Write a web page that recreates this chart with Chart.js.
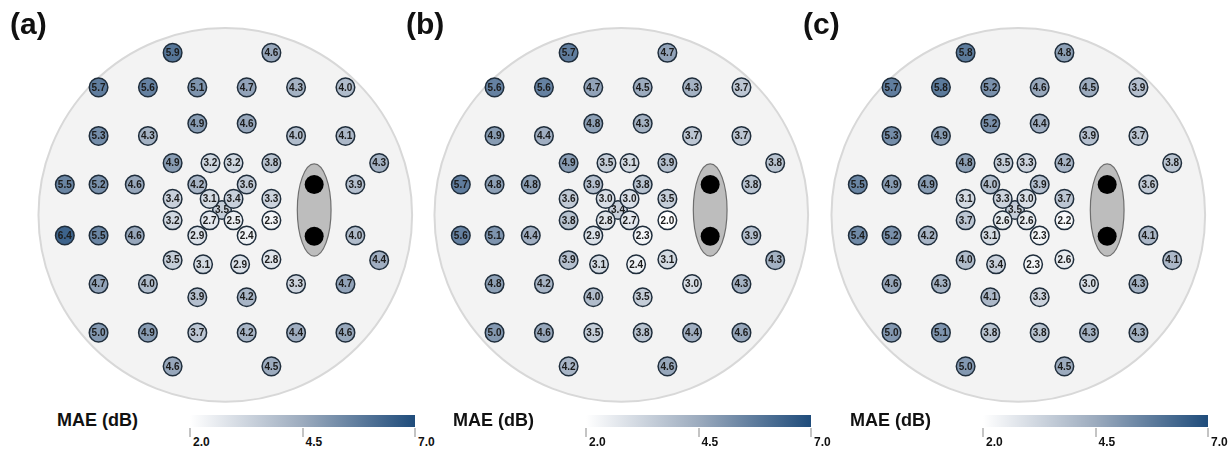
<!DOCTYPE html>
<html>
<head>
<meta charset="utf-8">
<script src="https://cdn.jsdelivr.net/npm/chart.js@4.4.1/dist/chart.umd.min.js"></script>
<style>
  body { margin: 0; width: 1231px; height: 449px; background: #fff; position: relative; overflow: hidden;
         font-family: "Liberation Sans", Arial, sans-serif; color: #111; }
  canvas.panel { position: absolute; top: 0; }
  .tag { position: absolute; top: 9px; font-size: 30px; font-weight: bold; line-height: 1; }
  .cbtitle { position: absolute; top: 411px; font-size: 18px; font-weight: bold; line-height: 1; }
  .cbar { position: absolute; top: 415px; height: 12px; }
  .tick { position: absolute; top: 428px; width: 2px; height: 9px; background: #c4c4c4; }
  .ticklabel { position: absolute; top: 436px; font-size: 12px; font-weight: bold; line-height: 1; }
</style>
</head>
<body>
<script>
// test locations in degrees (first one is fixation)
const locX = [0,
  -6, 6,
  -15, -9, -3, 3, 9, 15,
  -3, 3,
  -15, -9, 9, 15,
  -6, -1.4, 1.4, 6, 19.1,
  -19.1, -15, -10.6, -3, 3, 16.2,
  -6, -1.5, 1.4, 6,
  -6, -1.5, 1.4, 6,
  -19.1, -15, -10.6, -3, 3, 16.2,
  -6, -2.3, 2.2, 6, 19.1,
  -15, -9, 9, 15,
  -3, 3,
  -15, -9, -3, 3, 9, 15,
  -6, 6]
const locY = [0,
  19.1, 19.1,
  14.9, 14.9, 14.9, 14.9, 14.9, 14.9,
  10.5, 10.5,
  9, 9, 9, 9,
  5.7, 5.7, 5.7, 5.7, 5.7,
  3.1, 3.1, 3.1, 3.1, 3.1, 3.1,
  1.35, 1.35, 1.35, 1.35,
  -1.25, -1.25, -1.25, -1.25,
  -3.1, -3.1, -3.1, -3.1, -3.1, -3.1,
  -6.1, -6.6, -6.6, -6.0, -6.1,
  -9, -9, -9, -9,
  -10.6, -10.6,
  -14.9, -14.9, -14.9, -14.9, -14.9, -14.9,
  -19, -19]

const maeA = [3.5, 5.9, 4.6, 5.7, 5.6, 5.1, 4.7, 4.3, 4.0, 4.9, 4.6, 5.3, 4.3, 4.0, 4.1,
  4.9, 3.2, 3.2, 3.8, 4.3, 5.5, 5.2, 4.6, 4.2, 3.6, 3.9, 3.4, 3.1, 3.4, 3.3,
  3.2, 2.7, 2.5, 2.3, 6.4, 5.5, 4.6, 2.9, 2.4, 4.0, 3.5, 3.1, 2.9, 2.8, 4.4,
  4.7, 4.0, 3.3, 4.7, 3.9, 4.2, 5.0, 4.9, 3.7, 4.2, 4.4, 4.6, 4.6, 4.5]
const maeB = [3.4, 5.7, 4.7, 5.6, 5.6, 4.7, 4.5, 4.3, 3.7, 4.8, 4.3, 4.9, 4.4, 3.7, 3.7,
  4.9, 3.5, 3.1, 3.9, 3.8, 5.7, 4.8, 4.8, 3.9, 3.8, 3.8, 3.6, 3.0, 3.0, 3.5,
  3.8, 2.8, 2.7, 2.0, 5.6, 5.1, 4.4, 2.9, 2.3, 3.9, 3.9, 3.1, 2.4, 3.1, 4.3,
  4.8, 4.2, 3.0, 4.3, 4.0, 3.5, 5.0, 4.6, 3.5, 3.8, 4.4, 4.6, 4.2, 4.6]
const maeC = [3.5, 5.8, 4.8, 5.7, 5.8, 5.2, 4.6, 4.5, 3.9, 5.2, 4.4, 5.3, 4.9, 3.9, 3.7,
  4.8, 3.5, 3.3, 4.2, 3.8, 5.5, 4.9, 4.9, 4.0, 3.9, 3.6, 3.1, 3.3, 3.0, 3.7,
  3.7, 2.6, 2.6, 2.2, 5.4, 5.2, 4.2, 3.1, 2.3, 4.1, 4.0, 3.4, 2.3, 2.6, 4.1,
  4.6, 4.3, 3.0, 4.3, 4.1, 3.3, 5.0, 5.1, 3.8, 3.8, 4.3, 4.3, 5.0, 4.5]

const panelTags = ['(a)', '(b)', '(c)']
const blindX = [11.2, 11.2]
const blindY = [3.1, -3.2]
const cbTicks = [2.0, 4.5, 7.0]
const cbMin = 2.0, cbMax = 7.0

const offsets = [0, 396, 793]
const pxPerDeg = 8.23
const fixX = 222, fixY = 210
const cw = 438, ch = 410

const stops = [[255, 255, 255], [156, 171, 190], [31, 76, 123]]
function colorFor(v) {
  let t = Math.min(1, Math.max(0, (v - cbMin) / (cbMax - cbMin))) * 2
  const i = t >= 1 ? 1 : 0
  t -= i
  const c = stops[i].map((a, k) => Math.round(a + (stops[i + 1][k] - a) * t))
  return `rgb(${c[0]},${c[1]},${c[2]})`
}

const fieldBg = {
  id: 'fieldBg',
  beforeDatasetsDraw(chart) {
    const { ctx, scales: { x, y } } = chart
    const u = x.getPixelForValue(1) - x.getPixelForValue(0)
    ctx.save()
    ctx.beginPath()
    ctx.arc(x.getPixelForValue(0.4), y.getPixelForValue(-0.6), 22.7 * u, 0, Math.PI * 2)
    ctx.fillStyle = '#f3f3f3'
    ctx.fill()
    ctx.lineWidth = 2
    ctx.strokeStyle = '#d8d8d8'
    ctx.stroke()
    ctx.beginPath()
    ctx.ellipse(x.getPixelForValue(11.2), y.getPixelForValue(0), 2.05 * u, 5.6 * u, 0, 0, Math.PI * 2)
    ctx.fillStyle = '#bdbdbd'
    ctx.fill()
    ctx.lineWidth = 1.2
    ctx.strokeStyle = '#6e6e6e'
    ctx.stroke()
    ctx.restore()
  }
}

const valueText = {
  id: 'valueText',
  afterDatasetDraw(chart, args) {
    const ds = chart.data.datasets[args.index]
    if (!ds.values) return
    const { ctx } = chart
    ctx.save()
    ctx.font = 'bold 10px "Liberation Sans", Arial, sans-serif'
    ctx.fillStyle = '#1b1b1b'
    ctx.textAlign = 'center'
    ctx.textBaseline = 'middle'
    args.meta.data.forEach((pt, i) => {
      ctx.fillText(ds.values[i].toFixed(1), pt.x, pt.y + 0.5)
    })
    ctx.restore()
  }
}

function pointSet(idx) {
  return idx.map(i => ({ x: locX[i], y: locY[i] }))
}

[maeA, maeB, maeC].forEach((mae, p) => {
  const off = offsets[p]
  const canvas = document.createElement('canvas')
  canvas.className = 'panel'
  canvas.width = cw
  canvas.height = ch
  canvas.style.left = off + 'px'
  document.body.append(canvas)

  const centerIdx = [0]
  const restIdx = locX.map((_, i) => i).slice(1)
  const common = {
    pointRadius: 9.3,
    pointBorderWidth: 1.5,
    pointBorderColor: '#1f2d3b',
    pointHoverRadius: 9.3
  }

  new Chart(canvas, {
    type: 'scatter',
    data: {
      datasets: [
        {
          ...common,
          data: pointSet(restIdx),
          values: restIdx.map(i => mae[i]),
          pointBackgroundColor: restIdx.map(i => colorFor(mae[i])),
          order: 1
        },
        {
          ...common,
          data: pointSet(centerIdx),
          values: centerIdx.map(i => mae[i]),
          pointBackgroundColor: centerIdx.map(i => colorFor(mae[i])),
          order: 2
        },
        {
          data: blindX.map((v, i) => ({ x: v, y: blindY[i] })),
          pointRadius: 9.5,
          pointBorderWidth: 0,
          pointBackgroundColor: '#000',
          order: 0
        }
      ]
    },
    options: {
      responsive: false,
      animation: false,
      devicePixelRatio: 1,
      layout: { padding: 0, autoPadding: false },
      plugins: { legend: { display: false }, tooltip: { enabled: false } },
      events: [],
      scales: {
        x: { type: 'linear', display: false, min: -fixX / pxPerDeg, max: (cw - fixX) / pxPerDeg },
        y: { type: 'linear', display: false, min: -(ch - fixY) / pxPerDeg, max: fixY / pxPerDeg }
      }
    },
    plugins: [fieldBg, valueText]
  })

  const tag = document.createElement('div')
  tag.className = 'tag'
  tag.style.left = (10 + off) + 'px'
  tag.innerText = panelTags[p]
  document.body.append(tag)

  const title = document.createElement('div')
  title.className = 'cbtitle'
  title.style.left = (57 + off) + 'px'
  title.innerText = 'MAE (dB)'
  document.body.append(title)

  const barLeft = 190 + off, barW = 225
  const bar = document.createElement('div')
  bar.className = 'cbar'
  bar.style.left = barLeft + 'px'
  bar.style.width = barW + 'px'
  bar.style.background = `linear-gradient(to right, ${colorFor(cbMin)}, ${colorFor((cbMin + cbMax) / 2)}, ${colorFor(cbMax)})`
  document.body.append(bar)

  cbTicks.forEach(t => {
    const x = barLeft + (t - cbMin) / (cbMax - cbMin) * barW
    const tick = document.createElement('div')
    tick.className = 'tick'
    tick.style.left = (x - 1) + 'px'
    document.body.append(tick)
    const lab = document.createElement('div')
    lab.className = 'ticklabel'
    lab.style.left = (x + 3) + 'px'
    lab.innerText = t.toFixed(1)
    document.body.append(lab)
  })
})
</script>
</body>
</html>
